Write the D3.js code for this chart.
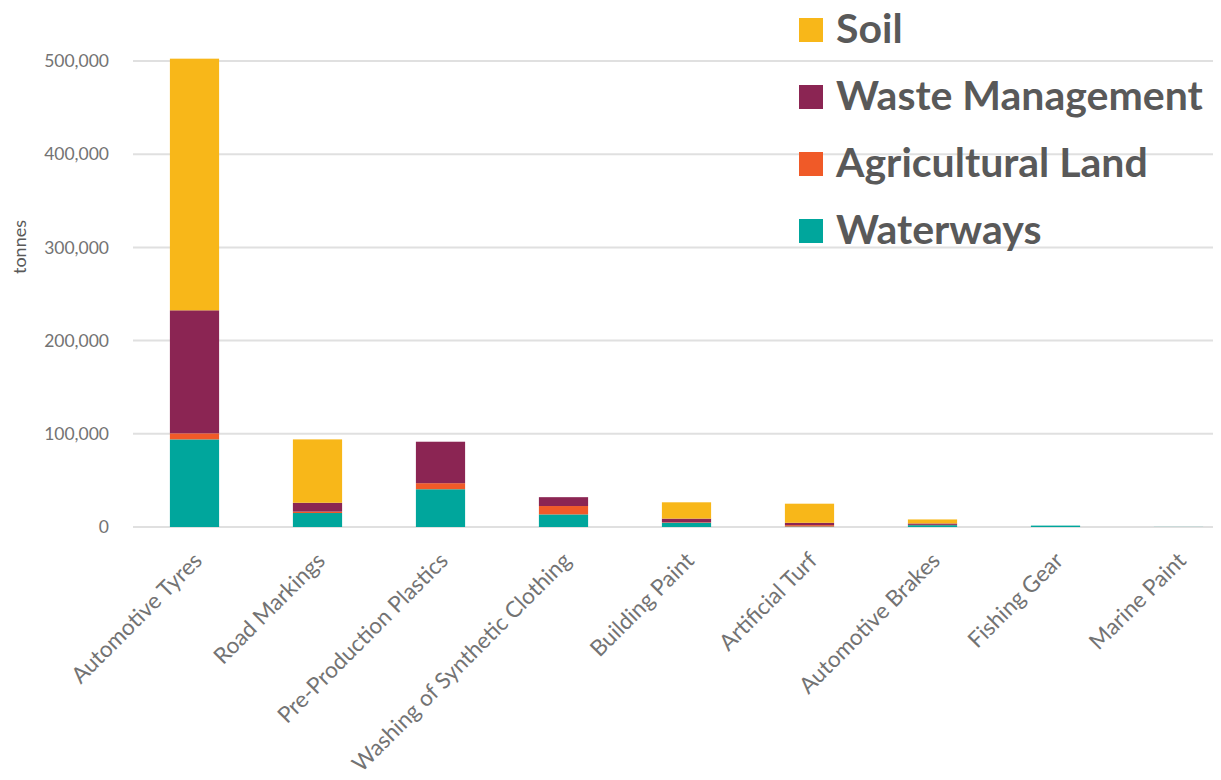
<!DOCTYPE html>
<html>

<head>
	<meta charset="utf-8">
	<title>Microplastics by source</title>
	<script src="https://cdn.jsdelivr.net/npm/d3@7"></script>
	<style>
		body { margin: 0; background: #fff; }
		text { font-family: Lato, "Open Sans", sans-serif; fill: #595959; }
	</style>
</head>

<body>
	<script>
		// data (tonnes)
		var categories = ["Automotive Tyres", "Road Markings", "Pre-Production Plastics",
			"Washing of Synthetic Clothing", "Building Paint", "Artificial Turf",
			"Automotive Brakes", "Fishing Gear", "Marine Paint"];
		var waterways    = [94000, 15000, 40500, 13500, 4500, 500, 2000, 1500, 100];
		var agricultural = [6500, 1500, 6500, 9000, 500, 1500, 300, 0, 0];
		var wasteMgmt    = [132000, 9500, 44500, 9500, 4000, 2500, 1500, 0, 0];
		var soil         = [270000, 68000, 0, 0, 17500, 20500, 4300, 0, 0];
		var yTicks = [0, 100000, 200000, 300000, 400000, 500000];

		var seriesKeys = ["Waterways", "Agricultural Land", "Waste Management", "Soil"];
		var colors = { "Soil": "#f8b719", "Waste Management": "#8b2553", "Agricultural Land": "#f05a28", "Waterways": "#00a69c" };

		var width = 1221, height = 780;

		var rows = categories.map(function (c, i) {
			return { cat: c, "Waterways": waterways[i], "Agricultural Land": agricultural[i],
				"Waste Management": wasteMgmt[i], "Soil": soil[i] };
		});

		var svg = d3.select("body").append("svg")
			.attr("width", width)
			.attr("height", height);

		var x = d3.scaleBand()
			.domain(categories)
			.range([133, 1240])
			.paddingInner(0.6)
			.paddingOuter(0.3);

		var y = d3.scaleLinear()
			.domain([0, 500000])
			.range([527, 61]);

		// gridlines
		svg.append("g").selectAll("line")
			.data(yTicks)
			.enter().append("line")
			.attr("x1", 133).attr("x2", 1213)
			.attr("y1", function (d) { return y(d); })
			.attr("y2", function (d) { return y(d); })
			.attr("stroke", "#e0e0e0")
			.attr("stroke-width", 2);

		// y axis
		var yAxis = svg.append("g")
			.attr("transform", "translate(133,0)")
			.call(d3.axisLeft(y).tickValues(yTicks).tickFormat(d3.format(",")).tickSize(0).tickPadding(24));
		yAxis.select(".domain").remove();
		yAxis.selectAll("text").style("font-size", "17.5px").style("fill", "#737373");

		svg.append("text")
			.attr("transform", "translate(26,247) rotate(-90)")
			.attr("text-anchor", "middle")
			.style("font-size", "18px")
			.text("tonnes");

		// stacked bars
		var stack = d3.stack().keys(seriesKeys)(rows);

		svg.append("g").selectAll("g")
			.data(stack)
			.enter().append("g")
			.attr("fill", function (d) { return colors[d.key]; })
			.selectAll("rect")
			.data(function (d) { return d; })
			.enter().append("rect")
			.attr("x", function (d) { return x(d.data.cat); })
			.attr("width", x.bandwidth())
			.attr("y", function (d) { return y(d[1]); })
			.attr("height", function (d) { return y(d[0]) - y(d[1]); });

		// x axis labels
		var xAxis = svg.append("g")
			.attr("transform", "translate(0,527)")
			.call(d3.axisBottom(x).tickSize(0));
		xAxis.select(".domain").remove();
		xAxis.selectAll("text")
			.attr("y", 0).attr("dy", 0)
			.attr("text-anchor", "end")
			.attr("transform", "translate(9,35) rotate(-45)")
			.style("font-size", "22.5px")
			.style("fill", "#737373");

		// legend
		var legendKeys = ["Soil", "Waste Management", "Agricultural Land", "Waterways"];
		var legend = svg.append("g").selectAll("g")
			.data(legendKeys)
			.enter().append("g")
			.attr("transform", function (d, i) { return "translate(799," + (18 + i * 67) + ")"; });
		legend.append("rect")
			.attr("width", 24).attr("height", 24)
			.attr("fill", function (d) { return colors[d]; });
		legend.append("text")
			.attr("x", 37).attr("y", 25)
			.style("font-size", "41px")
			.style("font-weight", "bold")
			.text(function (d) { return d; });
	</script>
</body>

</html>
